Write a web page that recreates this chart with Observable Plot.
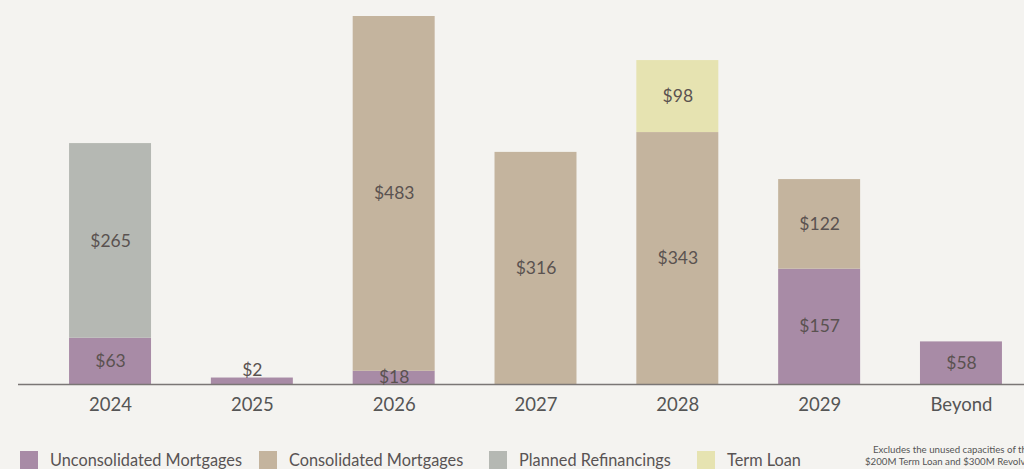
<!DOCTYPE html>
<html>
<head>
<meta charset="utf-8">
<script src="https://cdn.jsdelivr.net/npm/d3@7"></script>
<script src="https://cdn.jsdelivr.net/npm/@observablehq/plot@0.6"></script>
<style>
  html, body { margin: 0; padding: 0; background: #f4f3f0; overflow: hidden; width: 1024px; height: 469px; }
  #chart { position: relative; width: 1024px; height: 469px; font-family: Lato, "Noto Sans", sans-serif; }
  #legend { position: absolute; left: 0; top: 450px; width: 1024px; height: 20px; color: #595454; font-size: 16.3px; }
  .item { position: absolute; top: 0; display: flex; align-items: center; white-space: nowrap; }
  .sw { width: 18px; height: 18px; margin-right: 12px; }
  .note { position: absolute; font-size: 9.7px; line-height: 11px; color: #555; white-space: nowrap; }
</style>
</head>
<body>
<div id="chart">
  <div id="plot"></div>
  <div id="legend"></div>
  <div class="note" style="left:873px; top:444px;">Excludes the unused capacities of the</div>
  <div class="note" style="left:865px; top:456px;">$200M Term Loan and $300M Revolver</div>
</div>
<script>
const categories = ["2024", "2025", "2026", "2027", "2028", "2029", "Beyond"];
const seriesNames = ["Unconsolidated Mortgages", "Consolidated Mortgages", "Planned Refinancings", "Term Loan"];
const seriesColors = ["#a88ba6", "#c4b49e", "#b5b8b3", "#e6e3b1"];
const unconsolidated = [63, 2, 18, 0, 0, 157, 58];
const consolidated = [0, 0, 483, 316, 343, 122, 0];
const planned = [265, 0, 0, 0, 0, 0, 0];
const termLoan = [0, 0, 0, 0, 98, 0, 0];
const seriesValues = [unconsolidated, consolidated, planned, termLoan];
const legendLeft = [20, 259, 489, 697];

// build stacked table
const rows = [];
categories.forEach((cat, i) => {
  let base = 0;
  seriesValues.forEach((vals, s) => {
    const v = vals[i];
    if (v > 0) {
      rows.push({cat, series: seriesNames[s], value: v, y1: base, y2: base + v, label: "$" + v});
    }
    base += v;
  });
});
const bigRows = rows.filter(d => d.value >= 10);
const smallRows = rows.filter(d => d.value < 10);
const bigLabels = bigRows.map(d => ({cat: d.cat, label: d.label, y: (d.y1 + d.y2) / 2}));
const smallLabels = smallRows.map(d => ({cat: d.cat, label: d.label, y: d.y2}));

const plot = Plot.plot({
  width: 1024,
  height: 420,
  marginLeft: 18,
  marginRight: 0,
  marginTop: 16,
  marginBottom: 36,
  style: {background: "transparent", fontFamily: "Lato, 'Noto Sans', sans-serif", overflow: "visible"},
  x: {domain: categories, range: [18, 1053], paddingInner: 0.422, paddingOuter: 0.36, round: false, label: null},
  y: {domain: [0, 501], axis: null},
  color: {domain: seriesNames, range: seriesColors},
  marks: [
    Plot.rectY(bigRows, {x: "cat", y1: "y1", y2: "y2", fill: "series"}),
    Plot.rectY(smallRows, {x: "cat", y1: "y1", y2: "y2", fill: "series", insetTop: -5}),
    Plot.ruleY([0], {stroke: "#7a7675", strokeWidth: 1.5}),
    Plot.text(bigLabels, {x: "cat", y: "y", text: "label", fill: "#5a5250", fontSize: 17.5}),
    Plot.text(smallLabels, {x: "cat", y: "y", text: "label", fill: "#5a5250", fontSize: 17.5, dy: -13}),
    Plot.axisX({tickSize: 0, tickPadding: 13, fontSize: 18.5, fill: "#555", label: null})
  ]
});
document.getElementById("plot").appendChild(plot);

const legend = document.getElementById("legend");
seriesNames.forEach((name, i) => {
  const item = document.createElement("div");
  item.className = "item";
  item.style.left = legendLeft[i] + "px";
  item.innerHTML = `<div class="sw" style="background:${seriesColors[i]}"></div><span>${name}</span>`;
  legend.appendChild(item);
});
</script>
</body>
</html>
